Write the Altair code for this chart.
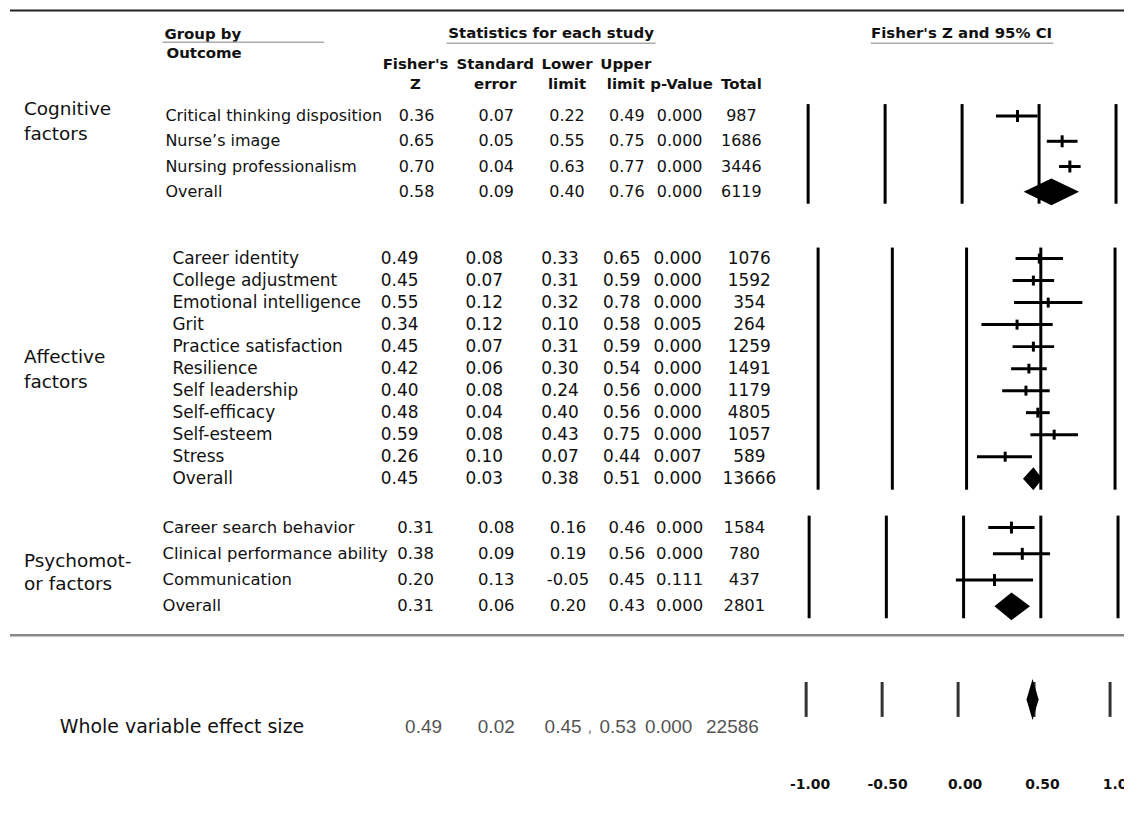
import altair as alt
import pandas as pd

# ---------------- data ----------------
cog_names = ["Critical thinking disposition", "Nurse\u2019s image", "Nursing professionalism", "Overall"]
cog_z = [0.36, 0.65, 0.70, 0.58]
cog_se = [0.07, 0.05, 0.04, 0.09]
cog_lo = [0.22, 0.55, 0.63, 0.40]
cog_hi = [0.49, 0.75, 0.77, 0.76]
cog_p = [0.000, 0.000, 0.000, 0.000]
cog_n = [987, 1686, 3446, 6119]

aff_names = ["Career identity", "College adjustment", "Emotional intelligence", "Grit",
             "Practice satisfaction", "Resilience", "Self leadership", "Self-efficacy",
             "Self-esteem", "Stress", "Overall"]
aff_z = [0.49, 0.45, 0.55, 0.34, 0.45, 0.42, 0.40, 0.48, 0.59, 0.26, 0.45]
aff_se = [0.08, 0.07, 0.12, 0.12, 0.07, 0.06, 0.08, 0.04, 0.08, 0.10, 0.03]
aff_lo = [0.33, 0.31, 0.32, 0.10, 0.31, 0.30, 0.24, 0.40, 0.43, 0.07, 0.38]
aff_hi = [0.65, 0.59, 0.78, 0.58, 0.59, 0.54, 0.56, 0.56, 0.75, 0.44, 0.51]
aff_p = [0.000, 0.000, 0.000, 0.005, 0.000, 0.000, 0.000, 0.000, 0.000, 0.007, 0.000]
aff_n = [1076, 1592, 354, 264, 1259, 1491, 1179, 4805, 1057, 589, 13666]

psy_names = ["Career search behavior", "Clinical performance ability", "Communication", "Overall"]
psy_z = [0.31, 0.38, 0.20, 0.31]
psy_se = [0.08, 0.09, 0.13, 0.06]
psy_lo = [0.16, 0.19, -0.05, 0.20]
psy_hi = [0.46, 0.56, 0.45, 0.43]
psy_p = [0.000, 0.000, 0.111, 0.000]
psy_n = [1584, 780, 437, 2801]

whole_names = ["Whole variable effect size"]
whole_z = [0.49]
whole_se = [0.02]
whole_lo = [0.45]
whole_hi = [0.53]
whole_p = [0.000]
whole_n = [22586]

TICKS = [-1.0, -0.5, 0.0, 0.5, 1.0]
TICK_LABELS = ["-1.00", "-0.50", "0.00", "0.50", "1.00"]

# ---------------- layout / style ----------------
W = 1118
SANS = "DejaVu Sans"
FIELDS = [("z", ".2f"), ("se", ".2f"), ("lo", ".2f"), ("hi", ".2f"), ("p", ".3f"), ("n", "d")]


def one():
    return pd.DataFrame({"k": [0]})


def label(text, x, y, size=16, weight="normal", align="left", color="#111", font=SANS):
    return alt.Chart(one()).mark_text(
        text=text, align=align, baseline="middle", fontSize=size, fontWeight=weight,
        color=color, font=font
    ).encode(x=alt.value(x), y=alt.value(y))


def hline(x1, x2, y, color, width):
    return alt.Chart(one()).mark_rule(color=color, strokeWidth=width).encode(
        x=alt.value(x1), x2=alt.value(x2), y=alt.value(y))


def spacer(h, extra=None):
    layers = [alt.Chart(one()).mark_rule(opacity=0).encode(x=alt.value(0), y=alt.value(0))]
    if extra:
        layers += extra
    return alt.layer(*layers).properties(width=W, height=h)


def frame(names, z, se, lo, hi, p, n):
    return pd.DataFrame({"row": list(range(len(names))), "name": names, "z": z, "se": se,
                         "lo": lo, "hi": hi, "p": p, "n": n})


def section(df, *, height, pad, xrange, cols, name_x, size, labels, tick_len, dia_h,
            grid_color="black", text_dy=0, name_size=None, num_font=SANS, num_color="#111",
            num_size=None, show_ticks=True):
    k = len(df)
    ysc = alt.Scale(domain=[-pad, k - 1 + pad], range=[0, height])
    xsc = alt.Scale(domain=[-1, 1], range=xrange)
    Y = alt.Y("row:Q", scale=ysc, axis=None)
    layers = []
    layers.append(alt.Chart(pd.DataFrame({"t": TICKS})).mark_rule(
        color=grid_color, strokeWidth=3).encode(x=alt.X("t:Q", scale=xsc, axis=None)))
    studies = df[df["name"] != "Overall"] if show_ticks else df.iloc[0:0]
    overall = df[df["name"] == "Overall"] if show_ticks else df
    if len(studies):
        layers.append(alt.Chart(studies).mark_rule(color="black", strokeWidth=3).encode(
            x=alt.X("lo:Q", scale=xsc, axis=None), x2="hi:Q", y=Y))
        layers.append(alt.Chart(studies).mark_tick(
            orient="vertical", size=tick_len, thickness=3, color="black", opacity=1).encode(
            x=alt.X("z:Q", scale=xsc, axis=None), y=Y))
    rows = []
    for _, r in overall.iterrows():
        rows += [
            {"x": r["lo"], "y1": r["row"], "y2": r["row"]},
            {"x": r["z"], "y1": r["row"] - dia_h, "y2": r["row"] + dia_h},
            {"x": r["hi"], "y1": r["row"], "y2": r["row"]},
        ]
    layers.append(alt.Chart(pd.DataFrame(rows)).mark_area(
        color="black", orient="vertical", interpolate="linear", opacity=1).encode(
        x=alt.X("x:Q", scale=xsc, axis=None),
        y=alt.Y("y1:Q", scale=ysc, axis=None), y2="y2:Q"))
    base = alt.Chart(df)
    layers.append(base.mark_text(align="left", baseline="middle", font=SANS,
                                 fontSize=name_size or size, color="#111", dy=text_dy).encode(
        x=alt.value(name_x), y=Y, text="name:N"))
    for f, fmt in FIELDS:
        # format with the library, keeping an ASCII hyphen for negative numbers
        expr = f"replace(format(datum.{f}, '{fmt}'), '\u2212', '-')"
        layers.append(base.transform_calculate(**{f"{f}_txt": expr}).mark_text(
            align="center", baseline="middle", font=num_font,
            fontSize=num_size or size, color=num_color, dy=text_dy).encode(
            x=alt.value(cols[f]), y=Y, text=alt.Text(f"{f}_txt:N")))
    for txt, ly in labels:
        layers.append(label(txt, 14, ly, size=18.5))
    return alt.layer(*layers).properties(width=W, height=height)


# ---------------- header ----------------
HB = 15
header_layers = [
    alt.Chart(one()).mark_rule(opacity=0).encode(x=alt.value(0), y=alt.value(0)),
    hline(0, W, 1, "#222", 2),
    label("Group by", 155, 25, size=HB, weight="bold"),
    hline(153, 315, 33, "#aaa", 1.5),
    label("Outcome", 157, 44, size=HB, weight="bold"),
    label("Statistics for each study", 543, 24, size=HB, weight="bold", align="center"),
    hline(438, 648, 34, "#aaa", 1.5),
    label("Fisher's Z and 95% CI", 955, 24, size=HB, weight="bold", align="center"),
    hline(864, 1047, 34, "#aaa", 1.5),
]
for x, l1, l2 in [(407, "Fisher's", "Z"), (487, "Standard", "error"), (559, "Lower", "limit"),
                  (618, "Upper", "limit"), (674, None, "p-Value"), (734, None, "Total")]:
    if l1:
        header_layers.append(label(l1, x, 55, size=HB, weight="bold", align="center"))
    header_layers.append(label(l2, x, 75, size=HB, weight="bold", align="center"))
header = alt.layer(*header_layers).properties(width=W, height=95)

cog = section(frame(cog_names, cog_z, cog_se, cog_lo, cog_hi, cog_p, cog_n),
              height=100, pad=0.474, xrange=[801, 1110],
              cols={"z": 408, "se": 488, "lo": 559, "hi": 619, "p": 672, "n": 734},
              name_x=156, size=16, labels=[("Cognitive", 5), ("factors", 30)],
              tick_len=12, dia_h=0.53)

aff = section(frame(aff_names, aff_z, aff_se, aff_lo, aff_hi, aff_p, aff_n),
              height=243, pad=0.5, xrange=[811, 1109],
              cols={"z": 391, "se": 476, "lo": 552, "hi": 614, "p": 670, "n": 742},
              name_x=163, size=17, labels=[("Affective", 110), ("factors", 135)],
              tick_len=10, dia_h=0.52)

psy = section(frame(psy_names, psy_z, psy_se, psy_lo, psy_hi, psy_p, psy_n),
              height=103, pad=0.456, xrange=[802, 1112],
              cols={"z": 407, "se": 488, "lo": 560, "hi": 619, "p": 672, "n": 737},
              name_x=153, size=16.5, labels=[("Psychomot-", 46), ("or factors", 69)],
              tick_len=12, dia_h=0.53)

whole = section(frame(whole_names, whole_z, whole_se, whole_lo, whole_hi, whole_p, whole_n),
                height=35, pad=0.5, xrange=[799, 1104],
                cols={"z": 415, "se": 488, "lo": 555, "hi": 610, "p": 661, "n": 725},
                name_x=50, size=19, labels=[], tick_len=12, dia_h=0.59,
                grid_color="#333", text_dy=28, num_font="Liberation Sans",
                num_color="#555", num_size=19, show_ticks=False)
whole = alt.layer(whole, label(",", 582, 46, size=14, color="#777", align="center"))

axis_panel = alt.Chart(pd.DataFrame({"t": TICKS, "lab": TICK_LABELS})).mark_text(
    font=SANS, fontSize=14, fontWeight="bold", color="#111", baseline="middle", clip=True
).encode(
    x=alt.X("t:Q", scale=alt.Scale(domain=[-1, 1], range=[803, 1114]), axis=None),
    y=alt.value(68), text="lab:N"
).properties(width=W, height=89)

chart = alt.vconcat(
    header,
    cog,
    spacer(44),
    aff,
    spacer(26),
    psy,
    spacer(64, [hline(0, W, 17, "#888", 2.5)]),
    whole,
    axis_panel,
    spacing=0,
    bounds="flush",
).properties(padding=0, background="white").configure_view(stroke=None, strokeWidth=0)

chart.save("out.html", embed_options={"renderer": "svg", "actions": False})
